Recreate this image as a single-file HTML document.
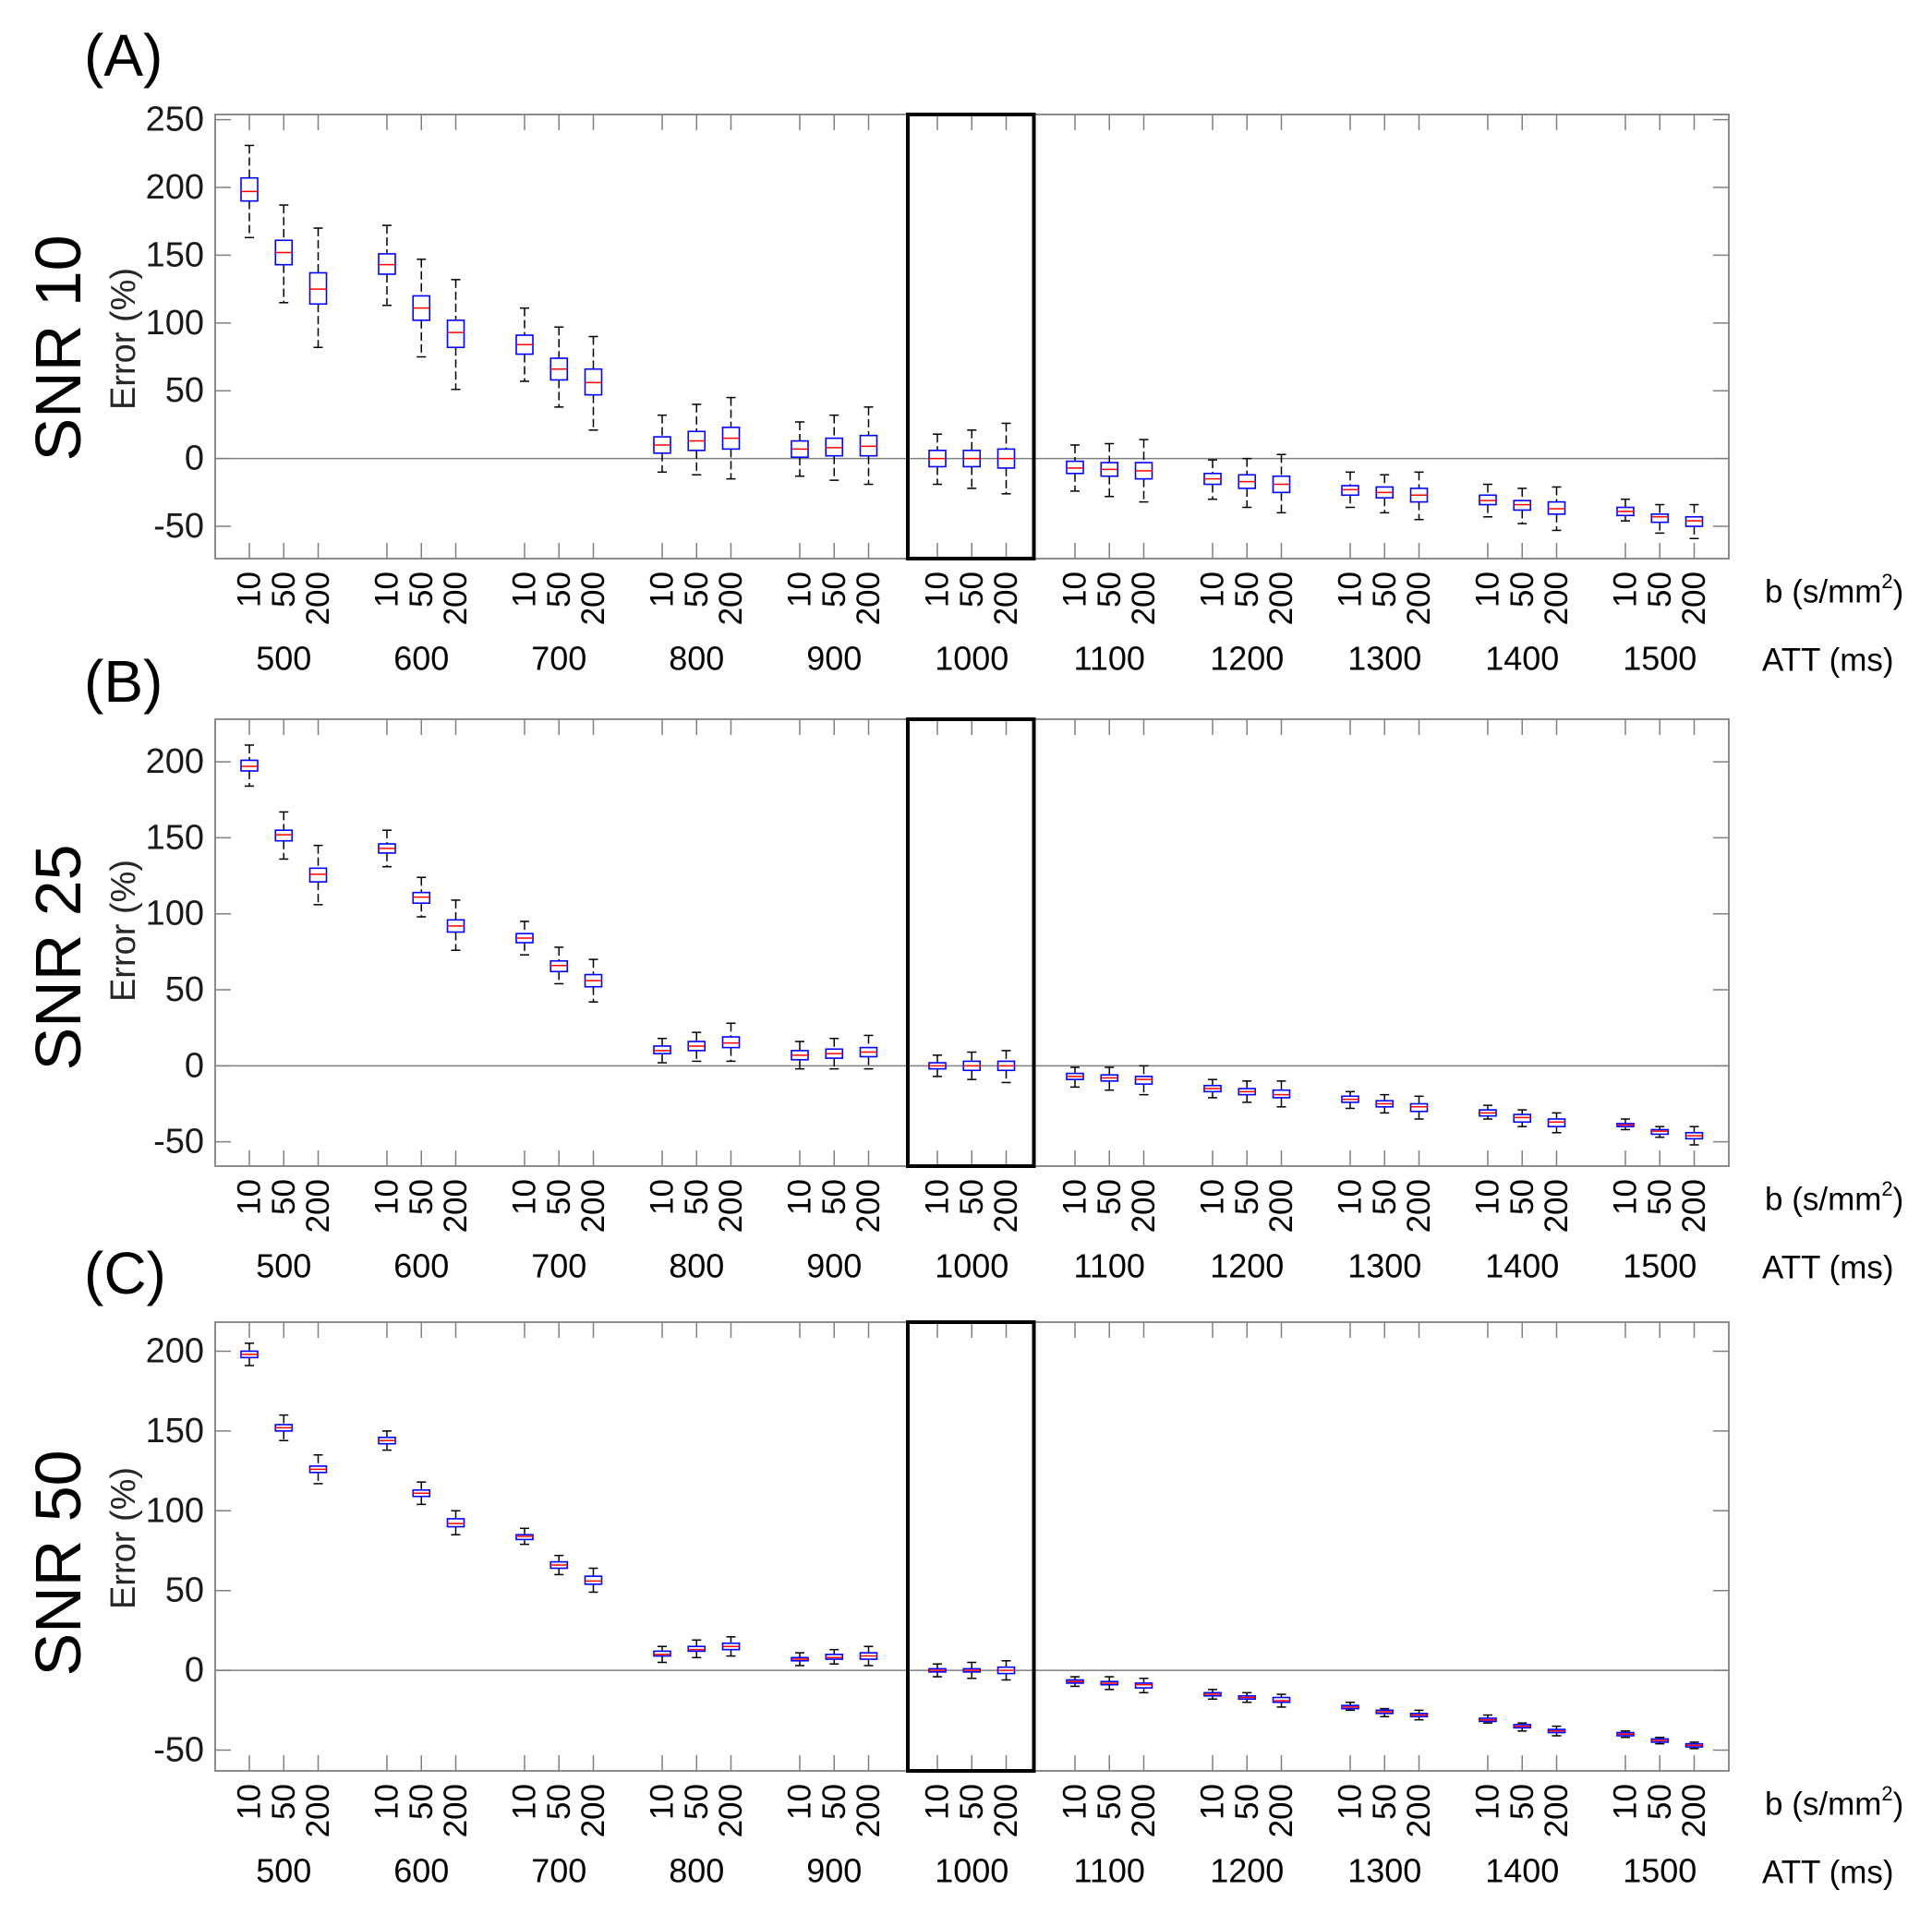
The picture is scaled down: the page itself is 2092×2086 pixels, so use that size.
<!DOCTYPE html>
<html><head><meta charset="utf-8"><style>
html,body{margin:0;padding:0;background:#fff;}
svg{display:block;font-family:"Liberation Sans",sans-serif;}
</style></head><body>
<svg id="fig" width="2092" height="2086" viewBox="0 0 2092 2086" xmlns="http://www.w3.org/2000/svg"></svg>
<script>
// ---- data ----
const attGroups = ["500","600","700","800","900","1000","1100","1200","1300","1400","1500"];
const bValues = ["10","50","200"];
const yTicksA = [-50,0,50,100,150,200,250];
const yTicksBC = [-50,0,50,100,150,200];
const panelTitles = ["(A)","(B)","(C)"];
const snrLabels = ["SNR 10","SNR 25","SNR 50"];

const medA = [197,152,125, 143,111,93, 84,66,56, 10,13,15, 7,8,9, 0,0,0, -7,-8,-9, -15,-17,-19, -23,-25,-27, -31,-34,-37, -39,-43,-46];
const q1A  = [190,143,114, 136,102,82, 77,58,47, 4,6,7, 1,2,2, -6,-6,-7, -11,-13,-15, -19,-22,-25, -27,-29,-32, -34,-38,-41, -42,-47,-50];
const q3A  = [207,161,137, 151,120,102, 91,74,66, 16,20,23, 13,15,17, 6,6,7, -2,-3,-3, -11,-12,-13, -20,-21,-22, -27,-31,-32, -36,-41,-43];
const loA  = [163,115,82, 113,75,51, 57,38,21, -10,-12,-15, -13,-16,-19, -19,-22,-26, -24,-28,-32, -30,-36,-40, -36,-40,-45, -43,-48,-53, -46,-55,-59];
const hiA  = [231,187,170, 172,147,132, 111,97,90, 32,40,45, 27,32,38, 18,21,26, 10,11,14, -1,0,3, -10,-12,-10, -19,-22,-21, -30,-34,-34];

const medB = [197,152,126, 143,111,92, 84,66,56, 10,13,15, 7,8,9, 0,0,0, -7,-8,-9, -15,-17,-19, -22,-25,-27, -31,-34,-37, -39,-43,-46];
const q1B  = [194,148,121, 140,107,88, 81,62,52, 8,10,12, 4,5,6, -2,-3,-3, -9,-10,-12, -17,-19,-21, -24,-27,-30, -33,-37,-40, -40,-45,-48];
const q3B  = [201,155,130, 146,114,96, 87,69,60, 13,16,19, 10,11,12, 2,3,3, -5,-6,-7, -13,-15,-16, -20,-23,-25, -29,-32,-35, -38,-42,-44];
const loB  = [184,136,106, 131,98,76, 73,54,42, 2,3,3, -2,-2,-2, -7,-9,-11, -14,-16,-19, -21,-24,-27, -28,-31,-35, -35,-40,-44, -42,-47,-52];
const hiB  = [211,167,145, 155,124,109, 95,78,70, 18,22,28, 16,18,20, 7,9,10, -1,-1,0, -9,-10,-10, -17,-19,-20, -26,-29,-31, -35,-40,-40];

const medC = [198,152,126, 144,111,92, 84,66,56, 10,13,15, 7,8,9, 0,0,0, -7,-8,-9, -15,-17,-19, -23,-26,-28, -31,-35,-38, -40,-44,-47];
const q1C  = [196,150,124, 142,109,90, 82,64,54, 9,12,13, 6,7,7, -1,-1,-2, -8,-9,-11, -16,-18,-20, -24,-27,-29, -32,-36,-39, -41,-45,-48];
const q3C  = [200,154,128, 146,113,95, 85,68,59, 12,15,17, 8,10,11, 1,1,2, -6,-7,-8, -14,-16,-17, -22,-25,-27, -30,-34,-37, -39,-43,-46];
const loC  = [191,144,117, 138,104,85, 79,60,49, 5,8,9, 3,4,3, -4,-5,-6, -10,-12,-14, -18,-20,-23, -25,-29,-31, -33,-38,-41, -42,-46,-49];
const hiC  = [205,160,135, 150,118,100, 89,72,64, 15,19,21, 11,13,15, 4,5,6, -4,-4,-5, -12,-14,-15, -20,-24,-25, -28,-33,-35, -38,-42,-45];

// ---- layout (not data) ----
const NS = "http://www.w3.org/2000/svg";
const svg = document.getElementById("fig");
const plotLeft = 233, plotRight = 1872;
const panels = [
  {top:124, bottom:605, vmin:-73.8, vmax:253.8, ticks:yTicksA, med:medA,q1:q1A,q3:q3A,lo:loA,hi:hiA, letterY:60, snrY:377, errY:367},
  {top:779, bottom:1263, vmin:-66, vmax:228, ticks:yTicksBC, med:medB,q1:q1B,q3:q3B,lo:loB,hi:hiB, letterY:738, snrY:1037, errY:1008},
  {top:1432, bottom:1918, vmin:-63, vmax:218.2, ticks:yTicksBC, med:medC,q1:q1C,q3:q3C,lo:loC,hi:hiC, letterY:1379, snrY:1693, errY:1666}
];
function xPos(g, j){ return 270 + 37.25*(g*4 + j); }
function mk(tag, attrs, parent){
  const e = document.createElementNS(NS, tag);
  for (const k in attrs) e.setAttribute(k, attrs[k]);
  (parent||svg).appendChild(e);
  return e;
}

panels.forEach((p, pi) => {
  const yS = v => p.bottom - (v - p.vmin)/(p.vmax - p.vmin)*(p.bottom - p.top);
  const g = mk("g", {});
  
  

  const lt = mk("text", {x:91, y:p.letterY, "font-size":64, "dominant-baseline":"central", fill:"#000"}, g);
  lt.textContent = panelTitles[pi];
  
  

  const st = mk("text", {x:0, y:0, "font-size":70, "text-anchor":"middle", "dominant-baseline":"central", fill:"#000",
    transform:`translate(63,${p.snrY}) rotate(-90)`}, g);
  st.textContent = snrLabels[pi];
  
  

  const et = mk("text", {x:0, y:0, "font-size":38, "text-anchor":"middle", "dominant-baseline":"central", fill:"#262626",
    transform:`translate(134,${p.errY}) rotate(-90)`}, g);
  et.textContent = "Error (%)";
  
  

  const zl = mk("line", {x1:plotLeft, x2:plotRight, y1:yS(0), y2:yS(0), stroke:"#808080", "stroke-width":1.5}, g);
  
  

  p.ticks.forEach(t => {
    const y = yS(t);
    const tl = mk("line", {x1:plotLeft, x2:plotLeft+17, y1:y, y2:y, stroke:"#808080", "stroke-width":1.5}, g);
    
    
    const tr = mk("line", {x1:plotRight-17, x2:plotRight, y1:y, y2:y, stroke:"#808080", "stroke-width":1.5}, g);
    
    
    const tx = mk("text", {x:plotLeft-12, y:y, "font-size":38, "text-anchor":"end", "dominant-baseline":"central", fill:"#1a1a1a"}, g);
    tx.textContent = String(t);
    
    
  });

  attGroups.forEach((att, gi) => {
    bValues.forEach((bv, j) => {
      const i = gi*3 + j;
      const x = xPos(gi, j);
      const tb = mk("line", {x1:x, x2:x, y1:p.bottom, y2:p.bottom-17, stroke:"#808080", "stroke-width":1.5}, g);
      
      
      const tt = mk("line", {x1:x, x2:x, y1:p.top, y2:p.top+17, stroke:"#808080", "stroke-width":1.5}, g);
      
      
      const bl = mk("text", {x:0, y:0, "font-size":35, "text-anchor":"end", "dominant-baseline":"central", fill:"#000",
        transform:`translate(${x},${p.bottom+14}) rotate(-90)`}, g);
      bl.textContent = bv;
      
      

      const bx = mk("g", {}, g);
      
      
      const yHi = yS(p.hi[i]), yLo = yS(p.lo[i]), yQ3 = yS(p.q3[i]), yQ1 = yS(p.q1[i]), yMed = yS(p.med[i]);
      const w1 = mk("line", {x1:x, x2:x, y1:yHi, y2:yQ3, stroke:"#000", "stroke-width":1.5, "stroke-dasharray":"9 4"}, bx);
      
      
      const w2 = mk("line", {x1:x, x2:x, y1:yQ1, y2:yLo, stroke:"#000", "stroke-width":1.5, "stroke-dasharray":"9 4"}, bx);
      
      
      const c1 = mk("line", {x1:x-5, x2:x+5, y1:yHi, y2:yHi, stroke:"#000", "stroke-width":1.5}, bx);
      
      
      const c2 = mk("line", {x1:x-5, x2:x+5, y1:yLo, y2:yLo, stroke:"#000", "stroke-width":1.5}, bx);
      
      
      const r = mk("rect", {x:x-9, y:yQ3, width:18, height:Math.max(1,yQ1-yQ3), fill:"#fff", stroke:"#0000ff", "stroke-width":1.6}, bx);
      
      
      const m = mk("line", {x1:x-9, x2:x+9, y1:yMed, y2:yMed, stroke:"#ff0000", "stroke-width":1.5}, bx);
      
      
    });
    const ax = xPos(gi, 1);
    const al = mk("text", {x:ax, y:p.bottom+108, "font-size":36, "text-anchor":"middle", "dominant-baseline":"central", fill:"#000"}, g);
    al.textContent = att;
    
    
  });

  const fr = mk("rect", {x:plotLeft, y:p.top, width:plotRight-plotLeft, height:p.bottom-p.top, fill:"none", stroke:"#808080", "stroke-width":1.8}, g);
  
  

  const hr = mk("rect", {x:xPos(5,0)-32, y:p.top, width:(xPos(5,2)+30)-(xPos(5,0)-32), height:p.bottom-p.top, fill:"none", stroke:"#000", "stroke-width":4}, g);
  
  

  const bt = mk("text", {x:1911, y:p.bottom+36, "font-size":35, "dominant-baseline":"central", fill:"#000"}, g);
  bt.innerHTML = 'b (s/mm<tspan dy="-12" font-size="22">2</tspan><tspan dy="12">)</tspan>';
  
  
  const at = mk("text", {x:1908, y:p.bottom+110, "font-size":35, "dominant-baseline":"central", fill:"#000"}, g);
  at.textContent = "ATT (ms)";
  
  
});
</script>
</body></html>
